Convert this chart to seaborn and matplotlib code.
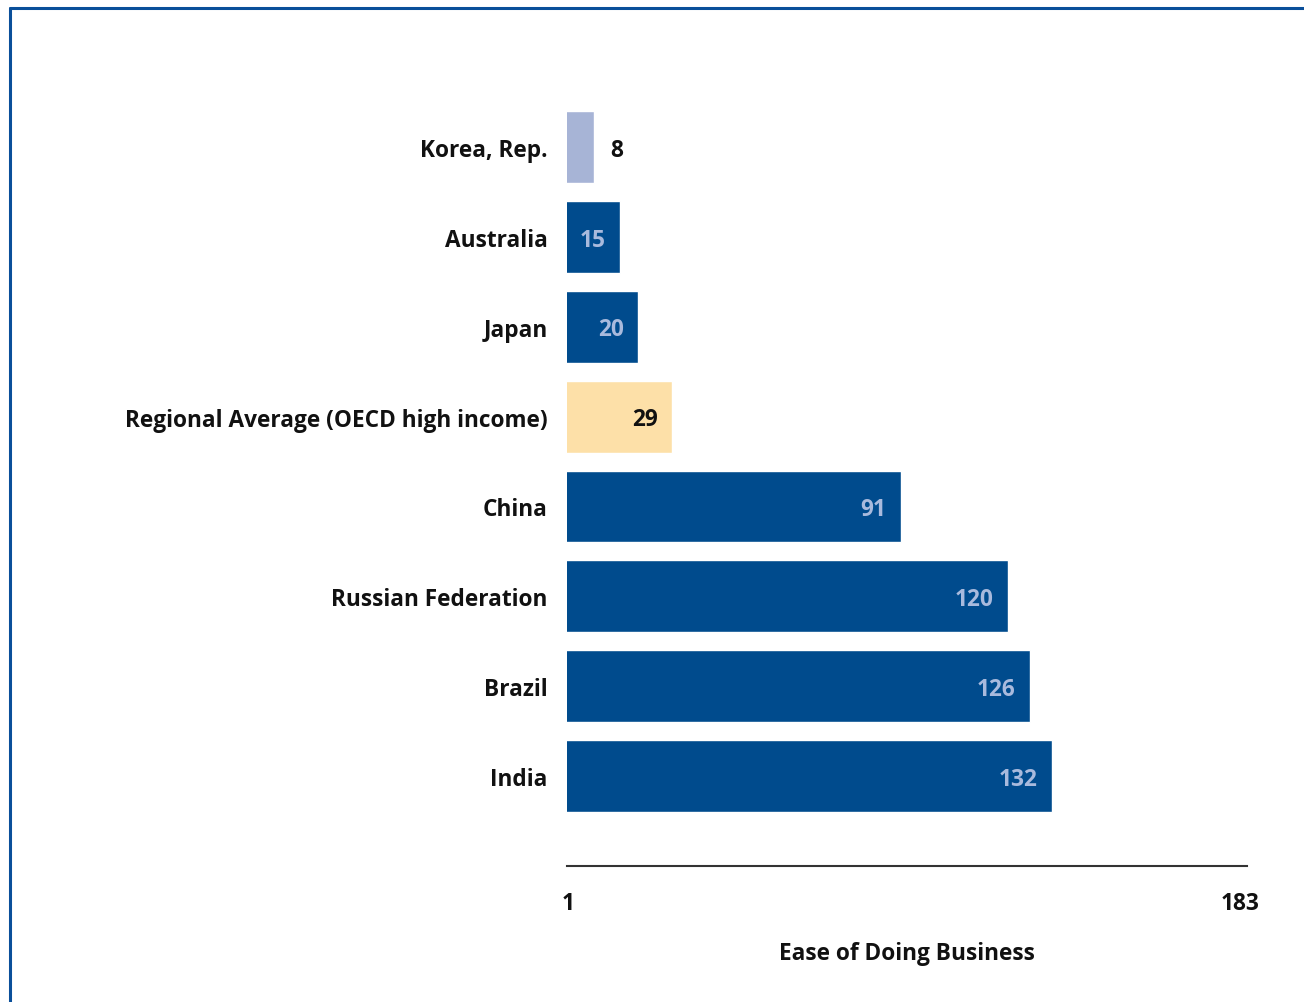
import matplotlib
matplotlib.use("Agg")
import matplotlib.pyplot as plt
import seaborn as sns
import pandas as pd
from matplotlib.lines import Line2D

# Ease of Doing Business rankings
countries = ["Korea, Rep.", "Australia", "Japan", "Regional Average (OECD high income)",
             "China", "Russian Federation", "Brazil", "India"]
ranks = [8, 15, 20, 29, 91, 120, 126, 132]
bar_colors = ["#a7b4d6", "#004b8d", "#004b8d", "#fde0a8", "#004b8d", "#004b8d", "#004b8d", "#004b8d"]
label_colors = ["#111111", "#a9badd", "#a9badd", "#111111", "#a9badd", "#a9badd", "#a9badd", "#a9badd"]
x_ticks = [1, 183]

df = pd.DataFrame({"country": countries, "rank": ranks})

sns.set_style("white")
plt.rcParams["font.family"] = ["Open Sans", "DejaVu Sans"]
FS = 16.3

fig = plt.figure(figsize=(13.04, 10.03), dpi=100)
ax = fig.add_axes([0.4348, 0.1356, 0.5215, 0.7617])

sns.barplot(data=df, x="rank", y="country", hue="country", palette=bar_colors,
            legend=False, width=0.8, saturation=1, ax=ax)

ax.set_xlim(0.68, 184.8)
ax.set_ylim(8.0, -0.5)

# value labels (small offset so digits sit visually centred)
for i, (v, c) in enumerate(zip(ranks, label_colors)):
    if v < 10:
        ax.text(v + 4.5, i + 0.03, str(v), ha="left", va="center", fontsize=FS,
                fontweight="bold", color=c)
    else:
        ax.text(v - 3.8, i + 0.03, str(v), ha="right", va="center", fontsize=FS,
                fontweight="bold", color=c)

ax.set_xticks(x_ticks)
ax.set_xticklabels([str(t) for t in x_ticks], fontsize=FS, fontweight="bold", color="#111111")
ax.tick_params(axis="x", length=0, pad=18)
ax.tick_params(axis="y", length=0, pad=14)
for lab in ax.get_yticklabels():
    lab.set_fontsize(FS)
    lab.set_fontweight("bold")
    lab.set_color("#111111")
ax.set_ylabel("")
ax.set_xlabel("Ease of Doing Business", fontsize=FS, fontweight="bold",
              color="#111111", labelpad=19)

for s in ["top", "right", "left"]:
    ax.spines[s].set_visible(False)
ax.spines["bottom"].set_color("#333333")
ax.spines["bottom"].set_linewidth(1.5)

# blue frame on the top and left edge
fig.add_artist(Line2D([0.0073, 0.0073], [0, 0.991], color="#0a4f9a", lw=2.2))
fig.add_artist(Line2D([0.0073, 1], [0.991, 0.991], color="#0a4f9a", lw=2.2))

fig.savefig("out.png", dpi=100)
